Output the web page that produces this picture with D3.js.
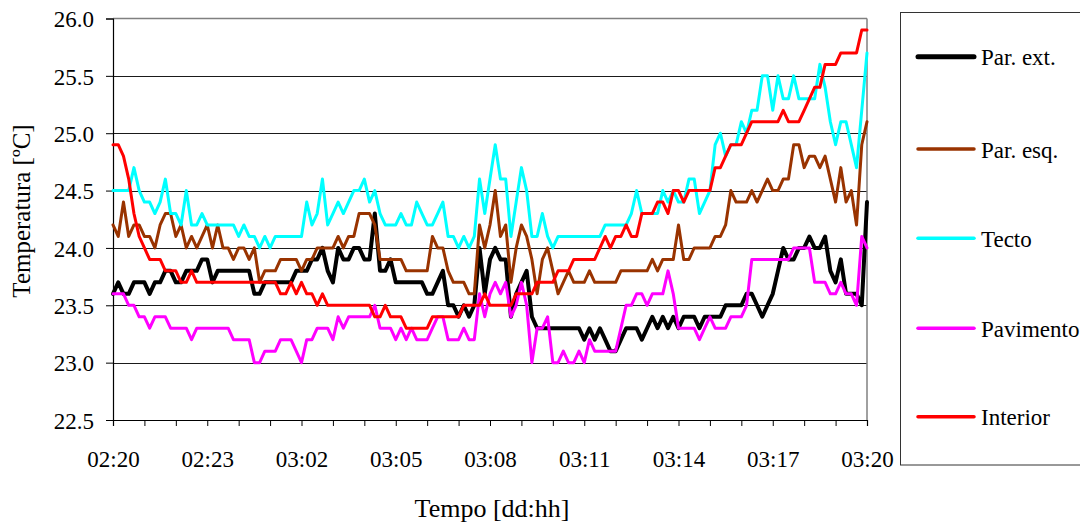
<!DOCTYPE html>
<html><head><meta charset="utf-8">
<script src="https://cdn.jsdelivr.net/npm/d3@7"></script>
<style>
html,body{margin:0;padding:0;background:#fff;}
svg{display:block;}
svg text{font-family:"Liberation Serif","Times New Roman",serif !important;fill:#000;}
</style></head>
<body><svg id="c" width="1080" height="525"></svg>
<script>
const tickLabels = ["02:20","02:23","03:02","03:05","03:08","03:11","03:14","03:17","03:20"];
const yTicks = [22.5,23.0,23.5,24.0,24.5,25.0,25.5,26.0];
const seriesNames = ["Par. ext.","Par. esq.","Tecto","Pavimento","Interior"];
const seriesColors = ["#000000","#993300","#00FFFF","#FF00FF","#FF0000"];

const parExt = [
23.6,23.7,23.6,23.6,23.7,23.7,23.7,23.6,23.7,23.7,
23.8,23.8,23.7,23.7,23.8,23.8,23.8,23.9,23.9,23.7,
23.8,23.8,23.8,23.8,23.8,23.8,23.8,23.6,23.6,23.7,
23.7,23.7,23.7,23.7,23.7,23.8,23.8,23.8,23.9,23.9,
24.0,23.8,23.7,24.0,23.9,23.9,24.0,24.0,23.9,23.9,
24.3,23.8,23.8,23.9,23.7,23.7,23.7,23.7,23.7,23.7,
23.6,23.6,23.7,23.8,23.5,23.5,23.4,23.5,23.4,23.5,
24.0,23.6,23.9,24.0,23.9,23.9,23.4,23.6,23.7,23.8,
23.4,23.3,23.3,23.3,23.3,23.3,23.3,23.3,23.3,23.3,
23.2,23.3,23.2,23.3,23.2,23.1,23.1,23.2,23.3,23.3,
23.3,23.2,23.3,23.4,23.3,23.4,23.3,23.4,23.3,23.4,
23.4,23.4,23.3,23.4,23.4,23.4,23.4,23.5,23.5,23.5,
23.5,23.6,23.6,23.5,23.4,23.5,23.6,23.8,24.0,23.9,
23.9,24.0,24.0,24.1,24.0,24.0,24.1,23.8,23.7,23.9,
23.6,23.6,23.6,23.5,24.4];
const parEsq = [
24.2,24.1,24.4,24.1,24.2,24.2,24.1,24.1,24.0,24.2,
24.3,24.3,24.1,24.2,24.0,24.1,24.0,24.1,24.2,24.0,
24.2,24.0,24.0,23.9,24.0,24.0,23.9,24.0,23.7,23.8,
23.8,23.8,23.9,23.9,23.9,23.9,23.8,23.9,23.9,24.0,
24.0,24.0,24.0,24.1,24.0,24.1,24.1,24.3,24.3,24.3,
24.2,23.9,23.9,23.9,23.9,23.9,23.8,23.8,23.8,23.8,
23.8,24.1,24.0,24.0,23.8,23.7,23.7,23.7,23.6,23.6,
24.2,24.0,24.2,24.5,24.1,24.2,23.7,24.0,24.2,24.1,
23.9,23.6,23.9,24.0,23.8,23.6,23.7,23.8,23.7,23.7,
23.7,23.8,23.7,23.7,23.7,23.7,23.7,23.8,23.8,23.8,
23.8,23.8,23.8,23.9,23.8,23.9,23.9,23.9,24.2,23.9,
23.9,24.0,24.0,24.0,24.0,24.1,24.1,24.2,24.5,24.4,
24.4,24.4,24.5,24.4,24.5,24.6,24.5,24.5,24.6,24.6,
24.9,24.9,24.7,24.8,24.8,24.7,24.8,24.6,24.4,24.7,
24.4,24.5,24.2,24.9,25.1];
const tecto = [
24.5,24.5,24.5,24.5,24.7,24.5,24.4,24.4,24.3,24.4,
24.6,24.3,24.3,24.2,24.5,24.2,24.2,24.3,24.2,24.2,
24.2,24.2,24.2,24.2,24.1,24.2,24.1,24.1,24.0,24.1,
24.0,24.1,24.1,24.1,24.1,24.1,24.1,24.4,24.2,24.3,
24.6,24.2,24.3,24.4,24.3,24.4,24.5,24.5,24.6,24.4,
24.5,24.3,24.2,24.2,24.2,24.3,24.2,24.2,24.4,24.3,
24.2,24.2,24.3,24.4,24.1,24.1,24.0,24.1,24.0,24.1,
24.6,24.3,24.6,24.9,24.6,24.6,24.1,24.4,24.7,24.5,
24.1,24.1,24.3,24.1,24.0,24.1,24.1,24.1,24.1,24.1,
24.1,24.1,24.1,24.1,24.2,24.2,24.2,24.2,24.2,24.3,
24.5,24.3,24.3,24.3,24.3,24.5,24.4,24.5,24.4,24.4,
24.6,24.6,24.3,24.4,24.5,24.9,25.0,24.8,24.9,24.9,
25.1,25.0,25.2,25.2,25.5,25.5,25.2,25.5,25.3,25.3,
25.5,25.3,25.3,25.3,25.3,25.6,25.4,25.1,24.9,25.1,
25.1,24.9,24.7,25.2,25.7];
const pavimento = [
23.6,23.6,23.6,23.5,23.5,23.4,23.4,23.3,23.4,23.4,
23.4,23.3,23.3,23.3,23.3,23.2,23.3,23.3,23.3,23.3,
23.3,23.3,23.3,23.2,23.2,23.2,23.2,23.0,23.0,23.1,
23.1,23.1,23.2,23.2,23.2,23.1,23.0,23.2,23.2,23.3,
23.3,23.3,23.2,23.4,23.3,23.4,23.4,23.4,23.4,23.4,
23.5,23.3,23.3,23.3,23.2,23.3,23.2,23.3,23.2,23.2,
23.2,23.3,23.4,23.4,23.2,23.2,23.2,23.3,23.2,23.2,
23.6,23.4,23.6,23.7,23.6,23.7,23.4,23.5,23.7,23.5,
23.0,23.3,23.3,23.4,23.0,23.0,23.1,23.0,23.0,23.1,
23.0,23.2,23.1,23.1,23.1,23.1,23.1,23.3,23.5,23.5,
23.6,23.6,23.5,23.6,23.6,23.6,23.8,23.6,23.3,23.3,
23.3,23.3,23.2,23.3,23.4,23.3,23.3,23.3,23.4,23.4,
23.4,23.5,23.9,23.9,23.9,23.9,23.9,23.9,23.9,23.9,
24.0,24.0,24.0,24.0,23.7,23.7,23.7,23.6,23.6,23.7,
23.6,23.6,23.5,24.1,24.0];
const interior = [
24.9,24.9,24.8,24.6,24.3,24.1,24.0,23.9,23.9,23.9,
23.8,23.8,23.8,23.7,23.7,23.8,23.7,23.7,23.7,23.7,
23.7,23.7,23.7,23.7,23.7,23.7,23.7,23.7,23.7,23.7,
23.7,23.7,23.6,23.6,23.7,23.6,23.7,23.6,23.6,23.5,
23.6,23.5,23.5,23.5,23.5,23.5,23.5,23.5,23.5,23.5,
23.4,23.4,23.5,23.4,23.4,23.4,23.3,23.3,23.3,23.3,
23.3,23.4,23.4,23.4,23.4,23.4,23.4,23.5,23.5,23.5,
23.5,23.6,23.5,23.5,23.5,23.5,23.5,23.6,23.6,23.6,
23.6,23.7,23.7,23.7,23.7,23.8,23.8,23.8,23.9,23.9,
23.9,23.9,23.9,24.0,24.1,24.0,24.1,24.1,24.2,24.1,
24.1,24.3,24.3,24.3,24.4,24.4,24.3,24.5,24.5,24.4,
24.5,24.5,24.5,24.5,24.5,24.7,24.7,24.8,24.9,24.9,
24.9,25.0,25.1,25.1,25.1,25.1,25.1,25.1,25.2,25.1,
25.1,25.1,25.2,25.3,25.4,25.4,25.6,25.6,25.6,25.7,
25.7,25.7,25.7,25.9,25.9];

const seriesData = [parExt, parEsq, tecto, pavimento, interior];
const seriesWidths = [4, 3, 3, 3, 3];
const legendWidths = [5, 3.5, 3.5, 3.5, 3.5];

const svg = d3.select("#c");
svg.append("rect").attr("width",1080).attr("height",525).attr("fill","#fff");

const L = 113, R = 867, T = 18.5, B = 420;
const nPts = parExt.length;
const x = d3.scaleLinear().domain([0, nPts-1]).range([L, R]);
const y = d3.scaleLinear().domain([22.5, 26.0]).range([B, T]);

// gridlines
svg.append("g").selectAll("line").data(yTicks.filter(v=>v>22.5 && v<26)).join("line")
  .attr("x1",L).attr("x2",R).attr("y1",d=>Math.round(y(d))+0.5).attr("y2",d=>Math.round(y(d))+0.5)
  .attr("stroke","#1a1a1a").attr("stroke-width",1);
// plot border top/right
svg.append("line").attr("x1",L).attr("x2",R).attr("y1",y(26)).attr("y2",y(26)).attr("stroke","#808080").attr("stroke-width",1.5);
svg.append("line").attr("x1",R).attr("x2",R).attr("y1",y(26)).attr("y2",B).attr("stroke","#808080").attr("stroke-width",1.5);

// x axis: a tick every hour, label every 3 hours
const hourIdx = d3.range(0, nPts, 6);
const xAxis = d3.axisBottom(x).tickValues(hourIdx)
  .tickFormat(d => d % 18 === 0 ? tickLabels[d/18] : "").tickSize(6).tickPadding(0);
const gx = svg.append("g").attr("transform",`translate(0,${B})`).call(xAxis);
gx.select(".domain").attr("stroke","#000").attr("stroke-width",1.2);
gx.selectAll(".tick line").attr("stroke","#000");
gx.selectAll("text").attr("font-size",23).attr("y",47).attr("dy",0);

const yAxis = d3.axisLeft(y).tickValues(yTicks).tickFormat(d3.format(".1f")).tickSize(7).tickPadding(12);
const gy = svg.append("g").attr("transform",`translate(${L},0)`).call(yAxis);
gy.select(".domain").attr("stroke","#000").attr("stroke-width",1.2);
gy.selectAll(".tick line").attr("stroke","#000");
gy.selectAll("text").attr("font-size",23).attr("dy","0.36em");

// series
const line = d3.line().x((d,i)=>x(i)).y(d=>y(d));
seriesData.forEach((s,k)=>{
  svg.append("path").datum(s).attr("d",line).attr("fill","none")
    .attr("stroke",seriesColors[k]).attr("stroke-width",seriesWidths[k])
    .attr("stroke-linejoin","round").attr("stroke-linecap","round");
});

// axis titles
svg.append("text").attr("x",492).attr("y",517).attr("text-anchor","middle")
  .attr("font-size",26).text("Tempo [dd:hh]");
svg.append("text").attr("transform","translate(30,211) rotate(-90)").attr("text-anchor","middle")
  .attr("font-size",25).text("Temperatura [ºC]");

// legend
svg.append("rect").attr("x",900.5).attr("y",12.5).attr("width",200).attr("height",452.5)
  .attr("fill","#fff").attr("stroke","#333").attr("stroke-width",1);
const legY = [56.7,149,238.3,328.3,416.7];
seriesNames.forEach((n,k)=>{
  svg.append("line").attr("x1",918).attr("x2",974).attr("y1",legY[k]).attr("y2",legY[k])
    .attr("stroke",seriesColors[k]).attr("stroke-width",legendWidths[k]).attr("stroke-linecap","round");
  svg.append("text").attr("x",981).attr("y",legY[k]+8.5).attr("font-size",23).text(n);
});
</script></body></html>
